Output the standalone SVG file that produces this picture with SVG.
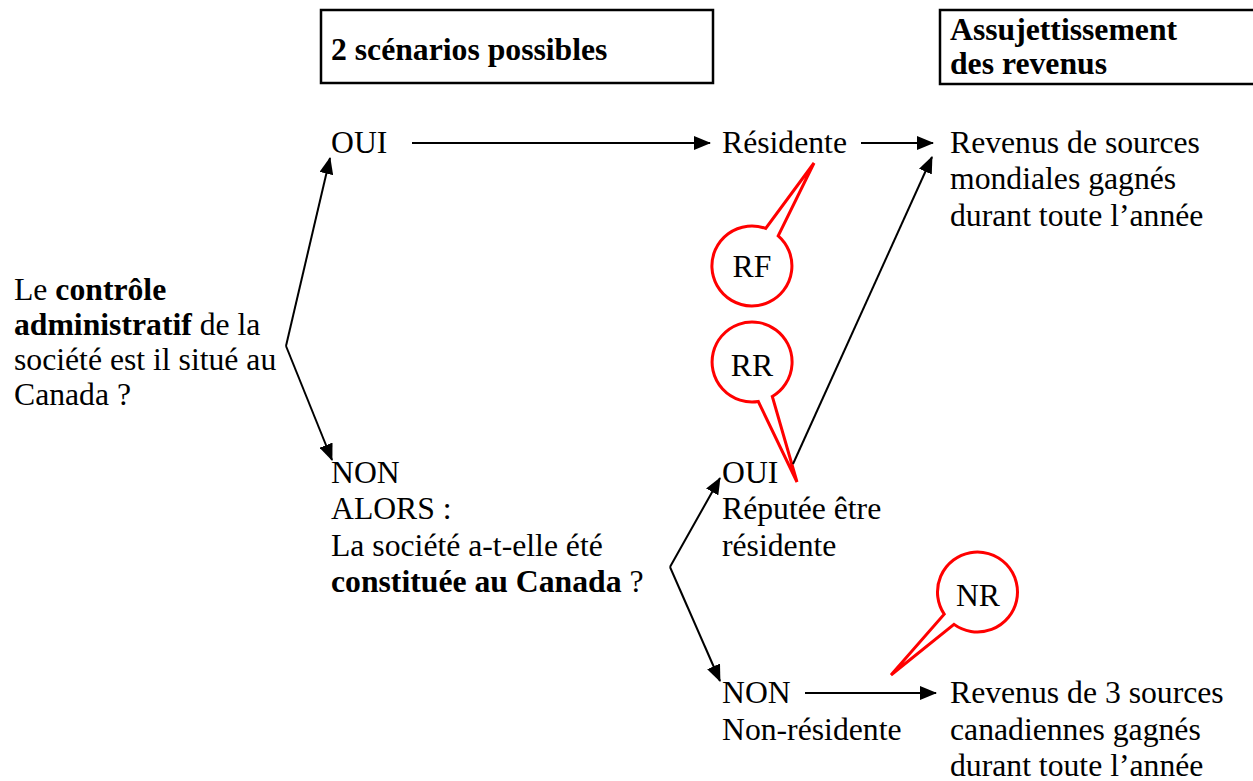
<svg xmlns="http://www.w3.org/2000/svg" width="1253" height="781" viewBox="0 0 1253 781">
<style>
text{font-family:"Liberation Serif","Times New Roman",serif;font-size:31.7px;fill:#000}
.b{font-weight:bold}
.box{fill:#fff;stroke:#000;stroke-width:2.5}
.ln{fill:none;stroke:#000;stroke-width:2}
.call{fill:#fff;stroke:#f00;stroke-width:3;stroke-linejoin:miter}
.c{text-anchor:middle}
</style>
<defs>
<marker id="ah" markerUnits="userSpaceOnUse" markerWidth="17" markerHeight="14" viewBox="0 0 17 14" refX="16" refY="7" orient="auto">
<path d="M0,0 L17,7 L0,14 z" fill="#000"/>
</marker>
</defs>
<rect width="1253" height="781" fill="#fff"/>

<g id="header-scenarios">
<rect class="box" x="321" y="10" width="392" height="73"/>
<text class="b" x="331" y="60">2 scénarios possibles</text>
</g>
<g id="header-assujettissement">
<rect class="box" x="940" y="10" width="320" height="74"/>
<text class="b" x="950" y="40">Assujettissement</text>
<text class="b" x="950" y="74">des revenus</text>
</g>

<g id="question-controle">
<text x="14" y="300">Le <tspan class="b">contrôle</tspan></text>
<text x="14" y="335"><tspan class="b">administratif</tspan> de la</text>
<text x="14" y="370">société est il situé au</text>
<text x="14" y="405">Canada ?</text>
</g>

<g id="oui-1"><text x="331" y="152.5">OUI</text></g>
<g id="residente"><text x="722" y="152.5">Résidente</text></g>
<g id="revenus-mondiaux">
<text x="950" y="152.5">Revenus de sources</text>
<text x="950" y="189">mondiales gagnés</text>
<text x="950" y="225.5">durant toute l’année</text>
</g>

<g id="non-1">
<text x="331" y="483">NON</text>
<text x="331" y="519">ALORS :</text>
<text x="331" y="555.5">La société a-t-elle été</text>
<text x="331" y="592"><tspan class="b">constituée au Canada</tspan> ?</text>
</g>

<g id="oui-2">
<text x="722" y="483">OUI</text>
<text x="722" y="519">Réputée être</text>
<text x="722" y="555.5">résidente</text>
</g>

<g id="non-2">
<text x="722" y="703">NON</text>
<text x="722" y="739.5">Non-résidente</text>
</g>

<g id="revenus-canadiens">
<text x="950" y="703">Revenus de 3 sources</text>
<text x="950" y="739.5">canadiennes gagnés</text>
<text x="950" y="776">durant toute l’année</text>
</g>

<g id="callout-rf">
<path class="call" d="M765.7,228.4 A40,40 0 1 0 778.2,235.8 L814,163 Z"/>
<text class="c" x="752" y="277">RF</text>
</g>
<g id="callout-rr">
<path class="call" d="M758.3,401.5 A40,40 0 1 1 772.3,396.5 L797,482 Z"/>
<text class="c" x="752" y="376">RR</text>
</g>
<g id="callout-nr">
<path class="call" d="M944.2,614.2 A40,40 0 1 1 954,624.4 L891,675 Z"/>
<text class="c" x="978" y="606">NR</text>
</g>

<g id="connectors">
<line class="ln" x1="412" y1="143" x2="710" y2="143" marker-end="url(#ah)"/>
<line class="ln" x1="861" y1="143" x2="933" y2="143" marker-end="url(#ah)"/>
<polyline class="ln" points="286,346 330,158" marker-end="url(#ah)"/>
<polyline class="ln" points="286,346 332,460" marker-end="url(#ah)"/>
<polyline class="ln" points="670,567 720,478" marker-end="url(#ah)"/>
<polyline class="ln" points="670,567 720,681" marker-end="url(#ah)"/>
<line class="ln" x1="793" y1="464" x2="932" y2="157" marker-end="url(#ah)"/>
<line class="ln" x1="805" y1="693" x2="936" y2="693" marker-end="url(#ah)"/>
</g>
</svg>
